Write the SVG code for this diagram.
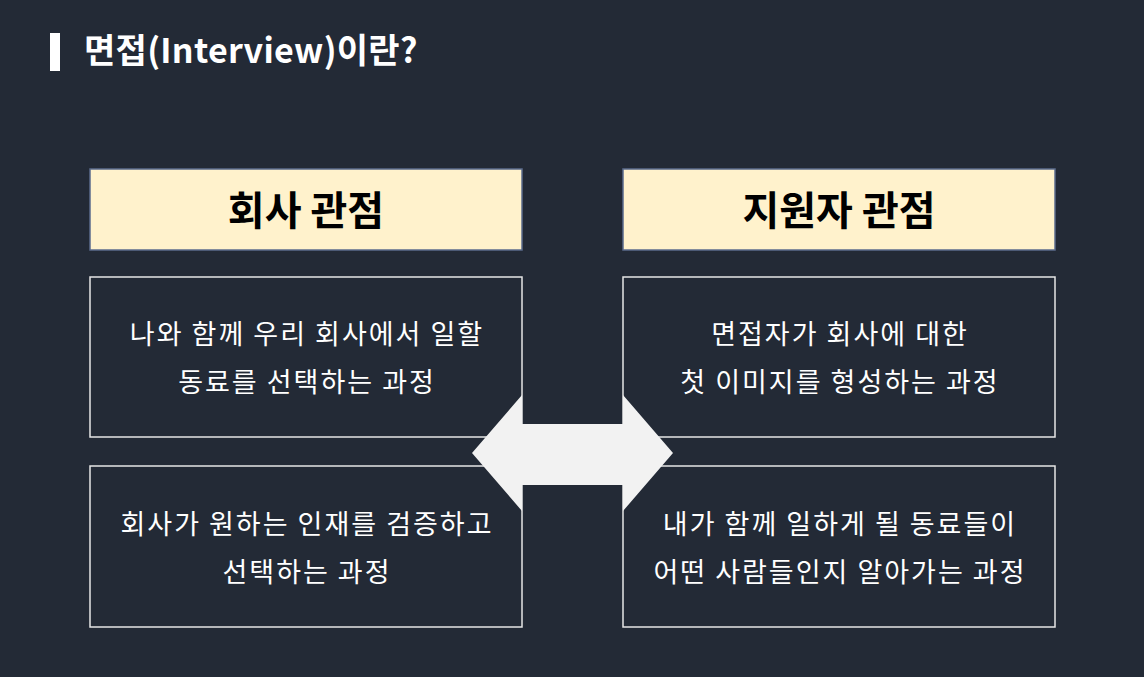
<svg xmlns="http://www.w3.org/2000/svg" width="1144" height="677" viewBox="0 0 1144 677">
<style>
.hdr{fill:#fff2cc;stroke:#5b6b8c;stroke-width:1.5}
.box{fill:none;stroke:#e6e6e6;stroke-width:1.5}
.ht{font-family:"Noto Sans CJK KR","Noto Sans",sans-serif;font-weight:700;font-size:40px;fill:#000;text-anchor:middle}
.bt{font-family:"Noto Sans CJK KR","Noto Sans",sans-serif;font-size:27px;letter-spacing:2px;fill:#fff;text-anchor:middle}
.title{font-family:"Noto Sans CJK KR","Noto Sans",sans-serif;font-weight:700;font-size:34px;letter-spacing:0.3px;fill:#fff}
</style>
<rect x="0" y="0" width="1144" height="677" fill="#232a36"/>
<g id="title">
<rect x="50" y="33" width="10" height="38" fill="#fff"/>
<text class="title" x="84" y="63">면접(Interview)이란?</text>
</g>
<g id="company-header">
<rect class="hdr" x="90" y="169" width="432" height="81"/>
<text class="ht" x="306" y="225">회사 관점</text>
</g>
<g id="applicant-header">
<rect class="hdr" x="623" y="169" width="432" height="81"/>
<text class="ht" x="839" y="225">지원자 관점</text>
</g>
<g id="company-1">
<rect class="box" x="90" y="277" width="432" height="160"/>
<text class="bt" x="307" y="344">나와 함께 우리 회사에서 일할</text>
<text class="bt" x="307" y="392">동료를 선택하는 과정</text>
</g>
<g id="company-2">
<rect class="box" x="90" y="466" width="432" height="161"/>
<text class="bt" x="307" y="534">회사가 원하는 인재를 검증하고</text>
<text class="bt" x="307" y="582">선택하는 과정</text>
</g>
<g id="applicant-1">
<rect class="box" x="623" y="277" width="432" height="160"/>
<text class="bt" x="840" y="344">면접자가 회사에 대한</text>
<text class="bt" x="840" y="392">첫 이미지를 형성하는 과정</text>
</g>
<g id="applicant-2">
<rect class="box" x="623" y="466" width="432" height="161"/>
<text class="bt" x="840" y="534">내가 함께 일하게 될 동료들이</text>
<text class="bt" x="840" y="582">어떤 사람들인지 알아가는 과정</text>
</g>
<g id="connectors">
<polygon points="472,453 522,395 522,424 623,424 623,395 673,453 623,511 623,485 522,485 522,511" fill="#f2f2f2"/>
</g>
</svg>
